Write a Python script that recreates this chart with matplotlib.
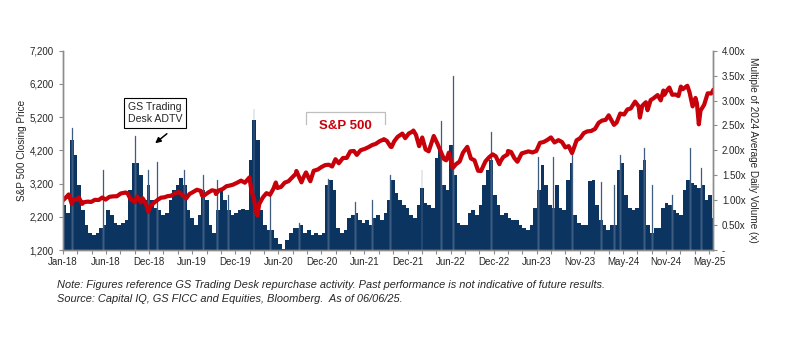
import numpy as np
import pandas as pd
import matplotlib
matplotlib.use("Agg")
import matplotlib.pyplot as plt
import matplotlib.dates as mdates
from matplotlib.lines import Line2D

plt.rcParams['font.family'] = ['Liberation Sans', 'DejaVu Sans']

# S&P 500 closing price (left axis)
spx_dates = [
    '2018-01-02', '2018-01-15', '2018-01-26', '2018-02-08', '2018-02-15', '2018-02-28',
    '2018-03-09', '2018-03-23', '2018-03-31', '2018-04-15', '2018-04-30', '2018-05-15',
    '2018-05-31', '2018-06-15', '2018-06-29', '2018-07-15', '2018-07-31', '2018-08-15',
    '2018-08-31', '2018-09-20', '2018-09-28', '2018-10-11', '2018-10-29', '2018-11-07',
    '2018-11-23', '2018-11-30', '2018-12-14', '2018-12-24', '2018-12-31',
    '2019-01-15', '2019-01-31', '2019-02-15', '2019-02-28', '2019-03-15', '2019-03-29',
    '2019-04-15', '2019-04-30', '2019-05-15', '2019-05-31', '2019-06-14', '2019-06-28',
    '2019-07-15', '2019-07-31', '2019-08-05', '2019-08-15', '2019-08-30', '2019-09-16',
    '2019-09-30', '2019-10-02', '2019-10-15', '2019-10-31', '2019-11-15', '2019-11-29',
    '2019-12-13', '2019-12-31',
    '2020-01-15', '2020-01-31', '2020-02-19', '2020-02-28', '2020-03-09', '2020-03-16',
    '2020-03-23', '2020-03-31', '2020-04-15', '2020-04-30', '2020-05-15', '2020-05-29',
    '2020-06-08', '2020-06-15', '2020-06-30', '2020-07-15', '2020-07-31', '2020-08-14',
    '2020-08-31', '2020-09-02', '2020-09-23', '2020-09-30', '2020-10-12', '2020-10-30',
    '2020-11-13', '2020-11-30', '2020-12-15', '2020-12-31',
    '2021-01-15', '2021-01-29', '2021-02-12', '2021-02-26', '2021-03-15', '2021-03-31',
    '2021-04-15', '2021-04-30', '2021-05-12', '2021-05-28', '2021-06-15', '2021-06-30',
    '2021-07-15', '2021-07-30', '2021-08-16', '2021-08-31', '2021-09-02', '2021-09-15',
    '2021-09-30', '2021-10-04', '2021-10-15', '2021-10-29', '2021-11-18', '2021-11-30',
    '2021-12-15', '2021-12-31',
    '2022-01-03', '2022-01-14', '2022-01-27', '2022-02-09', '2022-02-23', '2022-03-08',
    '2022-03-29', '2022-04-14', '2022-04-29', '2022-05-11', '2022-05-20', '2022-05-31',
    '2022-06-16', '2022-06-30', '2022-07-15', '2022-07-29', '2022-08-16', '2022-08-31',
    '2022-09-15', '2022-09-30', '2022-10-12', '2022-10-31', '2022-11-15', '2022-11-30',
    '2022-12-13', '2022-12-28', '2022-12-30',
    '2023-01-13', '2023-01-31', '2023-02-02', '2023-02-15', '2023-02-28', '2023-03-13',
    '2023-03-31', '2023-04-14', '2023-04-28', '2023-05-15', '2023-05-31', '2023-06-15',
    '2023-06-30', '2023-07-14', '2023-07-31', '2023-08-15', '2023-08-31', '2023-09-15',
    '2023-09-29', '2023-10-13', '2023-10-27', '2023-10-31', '2023-11-15', '2023-11-30',
    '2023-12-15', '2023-12-29',
    '2024-01-15', '2024-01-31', '2024-02-15', '2024-02-29', '2024-03-15', '2024-03-28',
    '2024-04-19', '2024-04-30', '2024-05-15', '2024-05-31', '2024-06-14', '2024-06-28',
    '2024-07-16', '2024-07-31', '2024-08-05', '2024-08-15', '2024-08-30', '2024-09-06',
    '2024-09-19', '2024-09-30', '2024-10-18', '2024-10-31', '2024-11-11', '2024-11-15',
    '2024-11-29', '2024-12-06', '2024-12-18', '2024-12-31',
    '2025-01-13', '2025-01-23', '2025-01-31', '2025-02-19', '2025-02-28', '2025-03-13',
    '2025-03-25', '2025-03-31', '2025-04-08', '2025-04-15', '2025-04-30', '2025-05-15',
    '2025-05-30', '2025-06-06',
]
spx_close = [
    2695, 2786, 2873, 2581, 2732, 2714,
    2786, 2588, 2641, 2656, 2648, 2711,
    2705, 2780, 2718, 2801, 2816, 2818,
    2902, 2931, 2914, 2728, 2641, 2814,
    2633, 2760, 2600, 2351, 2507,
    2610, 2704, 2776, 2784, 2822, 2834,
    2905, 2946, 2850, 2752, 2887, 2942,
    3014, 2980, 2844, 2848, 2926, 2998,
    2977, 2888, 2996, 3038, 3120, 3141,
    3169, 3231,
    3289, 3226, 3386, 2954, 2747, 2386,
    2237, 2585, 2783, 2912, 2864, 3044,
    3232, 3067, 3100, 3227, 3271, 3373,
    3500, 3580, 3237, 3363, 3535, 3270,
    3585, 3622, 3695, 3756,
    3768, 3714, 3934, 3811, 3969, 3973,
    4170, 4181, 4063, 4204, 4246, 4298,
    4360, 4395, 4479, 4523, 4537, 4480,
    4308, 4300, 4471, 4605, 4704, 4567,
    4709, 4766,
    4797, 4663, 4326, 4587, 4226, 4170,
    4632, 4392, 4132, 3935, 3901, 4132,
    3667, 3785, 3863, 4130, 4305, 3955,
    3901, 3586, 3577, 3872, 3992, 4080,
    4019, 3783, 3840,
    3999, 4077, 4180, 4148, 3970, 3856,
    4109, 4138, 4169, 4136, 4180, 4426,
    4450, 4505, 4589, 4437, 4508, 4450,
    4288, 4327, 4117, 4194, 4503, 4568,
    4719, 4770,
    4784, 4846, 5030, 5096, 5117, 5254,
    4967, 5036, 5308, 5278, 5431, 5460,
    5667, 5522, 5186, 5543, 5648, 5408,
    5713, 5762, 5864, 5705, 6001, 5870,
    6032, 6090, 5872, 5882,
    5836, 6119, 6041, 6144, 5955, 5522,
    5777, 5612, 4983, 5397, 5569, 5917,
    5912, 6000,
]

# GS Trading Desk ADTV, multiple of 2024 average (right axis), two readings per month from Jan-18
adtv = [
    0.9, 0.75, 2.2, 1.9, 1.3, 0.8, 0.5, 0.35, 0.3, 0.35, 0.45, 0.5,        # 2018
    0.8, 0.7, 0.55, 0.5, 0.55, 0.6, 1.2, 1.75, 1.75, 1.5, 1.0, 1.3,
    1.0, 0.85, 0.8, 0.7, 0.75, 1.0, 1.2, 1.3, 1.45, 1.3, 0.8, 0.65,        # 2019
    0.5, 0.7, 1.2, 1.0, 0.5, 0.35, 0.8, 1.2, 1.0, 0.8, 0.7, 0.75,
    0.8, 0.82, 0.8, 1.8, 2.6, 2.2, 0.8, 0.5, 0.4, 0.4, 0.25, 0.12,         # 2020
    0.03, 0.2, 0.35, 0.45, 0.45, 0.5, 0.35, 0.4, 0.3, 0.35, 0.3, 0.35,
    1.3, 1.4, 1.2, 0.45, 0.35, 0.4, 0.65, 0.7, 0.75, 0.6, 0.55, 0.6,       # 2021
    0.5, 0.65, 0.7, 0.6, 0.75, 1.0, 1.4, 1.15, 1.0, 0.9, 0.85, 0.7,
    0.65, 0.9, 1.25, 0.95, 0.9, 0.85, 1.85, 2.0, 1.3, 1.2, 2.1, 1.5,       # 2022
    0.55, 0.5, 0.5, 0.75, 0.8, 0.7, 0.9, 1.3, 1.6, 1.8, 1.1, 0.9,
    0.7, 0.75, 0.65, 0.6, 0.6, 0.5, 0.45, 0.4, 0.5, 0.85, 1.2, 1.7,        # 2023
    1.3, 0.9, 0.85, 1.3, 0.85, 0.8, 1.4, 1.75, 0.7, 0.55, 0.5, 0.5,
    1.38, 1.4, 0.9, 0.6, 0.5, 0.4, 0.5, 0.5, 1.6, 1.75, 1.1, 0.85,         # 2024
    0.8, 0.85, 1.6, 1.8, 0.5, 0.35, 0.45, 0.45, 0.85, 0.95, 0.9, 0.8,
    0.75, 0.7, 1.2, 1.4, 1.35, 1.3, 1.25, 1.3, 1.0, 1.1, 0.65,             # 2025
]

# single-day peaks
spike_dates = [
    '2018-02-09', '2018-06-20', '2018-11-02', '2018-12-26', '2019-01-31', '2019-05-24',
    '2019-08-13', '2019-10-07', '2019-11-25', '2020-03-09', '2020-05-18', '2020-09-15',
    '2021-01-12', '2021-05-07', '2021-07-16', '2021-10-01', '2022-02-08', '2022-04-29',
    '2022-06-21', '2022-11-23', '2023-06-09', '2023-08-11', '2023-10-27', '2024-02-28',
    '2024-04-23', '2024-05-16', '2024-08-26', '2024-09-26', '2024-12-20', '2025-03-03',
    '2025-04-18',
]
spike_vals = [
    2.45, 1.6, 2.29, 1.6, 1.77, 1.6,
    1.5, 1.4, 1.1, 2.83, 1.15, 0.55,
    1.42, 0.96, 1.0, 1.5, 1.6, 2.59,
    3.5, 2.37, 1.87, 1.87, 1.9, 1.37,
    1.3, 1.9, 2.04, 1.3, 1.1, 2.04,
    1.64,
]

tick_labels = ['Jan-18', 'Jun-18', 'Dec-18', 'Jun-19', 'Dec-19', 'Jun-20', 'Dec-20', 'Jun-21',
               'Dec-21', 'Jun-22', 'Dec-22', 'Jun-23', 'Nov-23', 'May-24', 'Nov-24', 'May-25']

navy = '#0b3461'
red = '#c8000a'
grey = '#8c8c8c'
txt = '#262626'

fig = plt.figure(figsize=(7.9, 3.51), dpi=100)
ax = fig.add_axes([0.0797, 0.2877, 0.8228, 0.5679])
ax2 = ax.twinx()

start = pd.Timestamp('2018-01-02')
end = pd.Timestamp('2025-06-06')
half = 365.25 / 24
bar_x = [mdates.date2num(pd.Timestamp('2018-01-01') + pd.Timedelta(days=half * i)) for i in range(len(adtv))]
ax2.bar(bar_x, adtv, width=half, align='edge', color=navy, linewidth=0)
ax2.bar(mdates.date2num(pd.to_datetime(spike_dates)), spike_vals, width=4, color=navy,
        edgecolor='#8595aa', linewidth=0.3)

ax.plot(pd.to_datetime(spx_dates), spx_close, color=red, lw=3.0, solid_joinstyle='round')
ax.set_zorder(ax2.get_zorder() + 1)
ax.patch.set_visible(False)

x0 = mdates.date2num(start)
x1 = mdates.date2num(end)
ax.set_xlim(x0, x1)
ax.set_ylim(1200, 7200)
ax2.set_ylim(0, 4)

step = 179.7
ax.set_xticks([x0 + step * k for k in range(16)])
ax.set_xticklabels(tick_labels)
ax.set_xticks([x0 + step / 3 * k for k in range(48) if k % 3 and x0 + step / 3 * k < x1], minor=True)

ax.set_yticks(range(1200, 7201, 1000))
ax.set_yticklabels(['{:,}'.format(v) for v in range(1200, 7201, 1000)])
yt = [0, 0.5, 1, 1.5, 2, 2.5, 3, 3.5, 4]
ax2.set_yticks(yt)
ax2.set_yticklabels(['-'] + ['{:.2f}x'.format(v) for v in yt[1:]])

for a in (ax, ax2):
    a.spines['top'].set_visible(False)
    for s in ('left', 'right', 'bottom'):
        a.spines[s].set_color(grey)
        a.spines[s].set_linewidth(1.0)
    a.tick_params(which='both', colors=grey, labelcolor=txt, labelsize=7, length=3, width=0.8)
ax.tick_params(axis='x', pad=2)

ax.set_ylabel('S&P 500 Closing Price', fontsize=7.2, color=txt, labelpad=2)
ax2.set_ylabel('Multiple of 2024 Average Daily Volume (x)', fontsize=7.2, color=txt,
               rotation=270, labelpad=9)

# labels on the chart
fig.text(155 / 790, 1 - 113 / 351, 'GS Trading\nDesk ADTV', ha='center', va='center', fontsize=7.6,
         color=txt, linespacing=1.3,
         bbox=dict(boxstyle='square,pad=0.4', fc='white', ec='black', lw=0.8))
ax.annotate('', xy=(153 / 790, 1 - 145 / 351), xycoords='figure fraction',
            xytext=(169 / 790, 1 - 132 / 351), textcoords='figure fraction',
            arrowprops=dict(arrowstyle='-|>', color='black', lw=1.1, mutation_scale=8))

bx = [306 / 790, 306 / 790, 385 / 790, 385 / 790]
by = [1 - 124 / 351, 1 - 112 / 351, 1 - 112 / 351, 1 - 124 / 351]
fig.add_artist(Line2D(bx, by, transform=fig.transFigure, color='#bfbfbf', lw=0.9))
fig.text(345 / 790, 1 - 126 / 351, 'S&P 500', ha='center', va='center', fontsize=9.5,
         fontweight='bold', color=red)

fig.text(57 / 790, 1 - 285 / 351,
         'Note: Figures reference GS Trading Desk repurchase activity. Past performance is not indicative of future results.',
         fontsize=7.9, style='italic', color=txt, va='center')
fig.text(57 / 790, 1 - 299 / 351,
         'Source: Capital IQ, GS FICC and Equities, Bloomberg.  As of 06/06/25.',
         fontsize=7.9, style='italic', color=txt, va='center')

fig.savefig('out.png', dpi=100)
